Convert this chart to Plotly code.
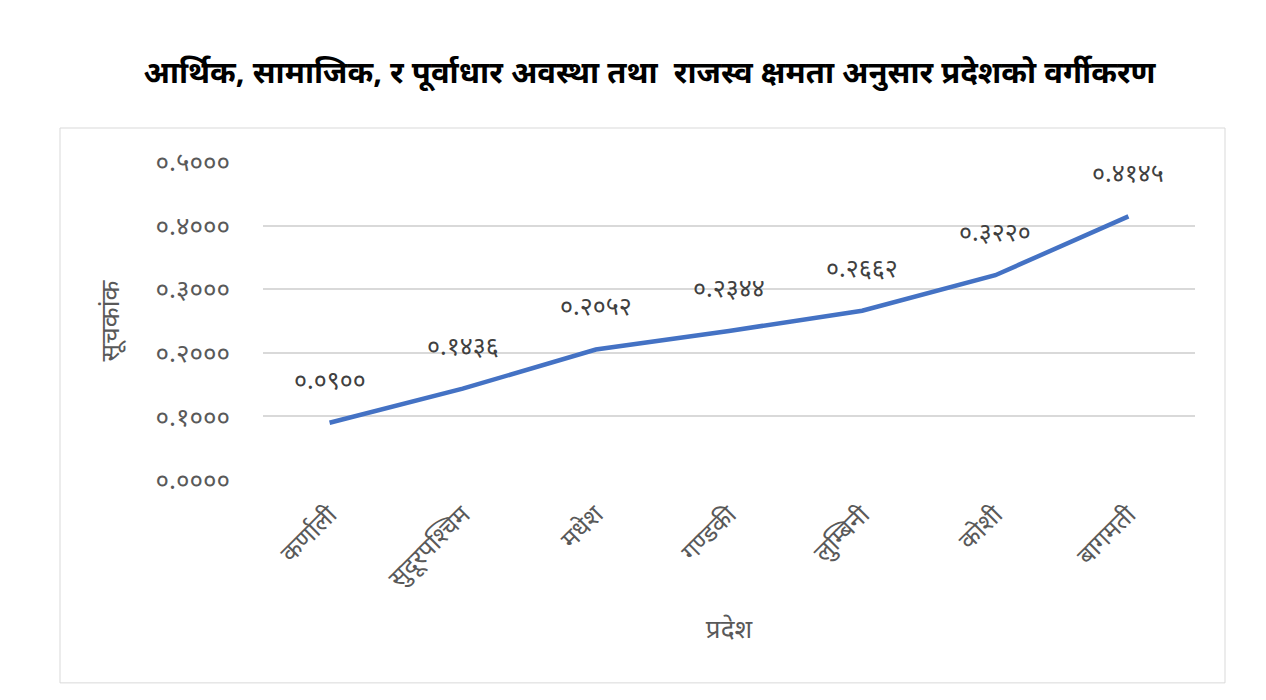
import plotly.graph_objects as go

categories = ["कर्णाली", "सुदूरपश्चिम", "मधेश", "गण्डकी", "लुम्बिनी", "कोशी", "बागमती"]
values = [0.0900, 0.1436, 0.2052, 0.2344, 0.2662, 0.3220, 0.4145]
value_labels = ["०.०९००", "०.१४३६", "०.२०५२", "०.२३४४", "०.२६६२", "०.३२२०", "०.४१४५"]
ytick_vals = [0.0, 0.1, 0.2, 0.3, 0.4, 0.5]
ytick_text = ["०.००००", "०.१०००", "०.२०००", "०.३०००", "०.४०००", "०.५०००"]

title_text = "आर्थिक, सामाजिक, र पूर्वाधार अवस्था तथा  राजस्व क्षमता अनुसार प्रदेशको वर्गीकरण"
x_title = "प्रदेश"
y_title = "सूचकांक"

fig = go.Figure()
fig.add_trace(go.Scatter(
    x=categories, y=values, mode="lines",
    line=dict(color="#4472C4", width=4.5),
    hoverinfo="skip", showlegend=False,
))

for c, v, t in zip(categories, values, value_labels):
    fig.add_annotation(x=c, y=v, text=t, showarrow=False, yshift=44,
                       font=dict(size=25, color="#404040"))

fig.add_shape(type="rect", xref="paper", yref="paper",
              x0=-0.2178, x1=1.0322, y0=-0.638, y1=1.1069,
              line=dict(color="#D9D9D9", width=1), fillcolor="rgba(0,0,0,0)", layer="below")

fig.update_layout(
    width=1266, height=700,
    margin=dict(l=263, r=71, t=162, b=220),
    paper_bgcolor="white", plot_bgcolor="white",
    title=dict(text="<b>" + title_text + "</b>", x=0.513, xanchor="center", y=0.897, yanchor="middle",
               font=dict(size=31, color="black")),
    xaxis=dict(showgrid=False, showline=False, ticks="", tickangle=-45,
               tickfont=dict(size=25, color="#595959"), ticklabelstandoff=14,
               title=dict(text=x_title, font=dict(size=26, color="#595959"), standoff=26),
               range=[-0.5, 6.5]),
    yaxis=dict(range=[0, 0.5], tickvals=ytick_vals, ticktext=ytick_text,
               showgrid=True, gridcolor="#D9D9D9", gridwidth=1.5, zeroline=False, showline=False,
               tickfont=dict(size=26, color="#595959"), ticklabelstandoff=32,
               title=dict(text=y_title, font=dict(size=26, color="#595959"), standoff=28)),
    font=dict(family="Noto Sans, sans-serif"),
)

fig.write_html("out.html")
